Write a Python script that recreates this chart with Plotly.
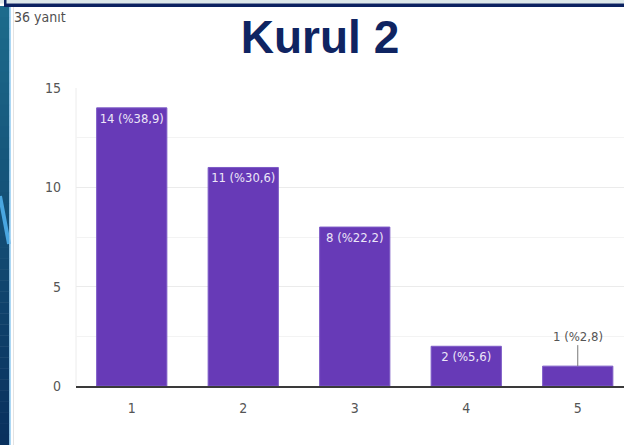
import plotly.graph_objects as go

# Survey response counts per answer option
categories = ["1", "2", "3", "4", "5"]
counts = [14, 11, 8, 2, 1]
percents = ["38,9", "30,6", "22,2", "5,6", "2,8"]
total_label = "36 yanıt"
title_text = "Kurul 2"
y_ticks = [0, 5, 10, 15]

W, H = 624, 445
ML, MR, MT, MB = 76, 0, 88, 59
PLOT_W = W - ML - MR
PLOT_H = H - MT - MB
STEP = 111.5  # pixels per category

def px(x):
    return (x - ML) / PLOT_W

def py(y):
    return (H - MB - y) / PLOT_H

NARROW = "DejaVu Sans Condensed, Liberation Sans Narrow, sans-serif"
PURPLE = "#673ab7"

labels = [f"{c} (%{p})" for c, p in zip(counts, percents)]
inside_text = [t if c >= 2 else "" for t, c in zip(labels, counts)]

fig = go.Figure()
fig.add_trace(go.Bar(
    x=categories, y=counts,
    marker=dict(color=PURPLE, line=dict(color="#7d5bc6", width=1)),
    text=inside_text, textposition="inside", insidetextanchor="end",
    textangle=0,
    textfont=dict(family=NARROW, size=13, color="#ece6f8"),
    hoverinfo="skip",
))

# small bar: label sits above with a leader line
for i, (c, t) in enumerate(zip(counts, labels)):
    if c < 2:
        fig.add_annotation(
            x=i, y=c, xref="x", yref="y", text=t, showarrow=True,
            arrowhead=0, arrowwidth=1, arrowcolor="#777777", ax=0, ay=-30,
            font=dict(family=NARROW, size=13, color="#555555"),
        )

shapes = []
# slide background strip on the left with a vertical gradient
n = 40
top, bottom = 6, H
c0, c1 = (0x1d, 0x6b, 0x8c), (0x0a, 0x31, 0x5e)
for i in range(n):
    f = i / (n - 1)
    col = "rgb({},{},{})".format(*[int(a + (b - a) * f) for a, b in zip(c0, c1)])
    y0 = top + (bottom - top) * i / n
    y1 = top + (bottom - top) * (i + 1) / n
    shapes.append(dict(type="rect", xref="paper", yref="paper",
                       x0=px(0), x1=px(9.5), y0=py(y0), y1=py(y1 + 0.5),
                       fillcolor=col, line=dict(width=0), layer="below"))
# light blue stroke on the slide strip
shapes.append(dict(type="line", xref="paper", yref="paper",
                   x0=px(0), y0=py(196), x1=px(9), y1=py(244),
                   line=dict(color="#4aa6e0", width=4)))
# light blue edge of the strip
shapes.append(dict(type="line", xref="paper", yref="paper",
                   x0=px(10), y0=py(6), x1=px(10), y1=py(H),
                   line=dict(color="#8fcaf0", width=1.5)))
# faint frame line of the chart card
shapes.append(dict(type="line", xref="paper", yref="paper",
                   x0=px(13.5), y0=py(6), x1=px(13.5), y1=py(H),
                   line=dict(color="#e3e3e3", width=1)))
# top light band and navy border
shapes.append(dict(type="rect", xref="paper", yref="paper",
                   x0=px(0), x1=px(W), y0=py(0), y1=py(3.5),
                   fillcolor="#dce8ea", line=dict(width=0)))
shapes.append(dict(type="rect", xref="paper", yref="paper",
                   x0=px(4), x1=px(W), y0=py(3.5), y1=py(7),
                   fillcolor="#0b2260", line=dict(width=0)))
shapes.append(dict(type="rect", xref="paper", yref="paper",
                   x0=px(4), x1=px(6.5), y0=py(0), y1=py(7),
                   fillcolor="#0b2260", line=dict(width=0)))
# left frame of the plot area
shapes.append(dict(type="line", xref="paper", yref="paper",
                   x0=px(76), y0=py(88), x1=px(76), y1=py(386),
                   line=dict(color="#ececec", width=1), layer="below"))

fig.update_layout(
    width=W, height=H,
    margin=dict(l=ML, r=MR, t=MT, b=MB),
    paper_bgcolor="white", plot_bgcolor="white",
    showlegend=False, bargap=0.37,
    shapes=shapes,
    title=dict(text=f"<b>{title_text}</b>", x=320 / W, y=1 - 37 / H,
               xanchor="center", yanchor="middle", xref="container",
               font=dict(family="Liberation Sans, Arial, sans-serif", size=46, color="#0f2462")),
    xaxis=dict(type="category", range=[-0.5, -0.5 + PLOT_W / STEP], showgrid=False,
               showline=True, linecolor="#3a3a3a", linewidth=2,
               tickfont=dict(family=NARROW, size=14, color="#555555"),
               ticks="", ticklabelstandoff=8, fixedrange=True),
    yaxis=dict(range=[0, 15], tickvals=y_ticks, showgrid=True,
               gridcolor="#ebebeb", gridwidth=1, zeroline=False,
               minor=dict(dtick=2.5, tick0=0, showgrid=True, gridcolor="#f3f3f3"),
               tickfont=dict(family=NARROW, size=14, color="#555555"),
               ticks="", ticklabelstandoff=14, fixedrange=True),
)

fig.add_annotation(xref="paper", yref="paper", x=px(12), y=py(17),
                   xanchor="left", yanchor="middle", showarrow=False,
                   text=total_label,
                   font=dict(family=NARROW, size=14, color="#4f4f4f"))

fig.write_html("out.html")
